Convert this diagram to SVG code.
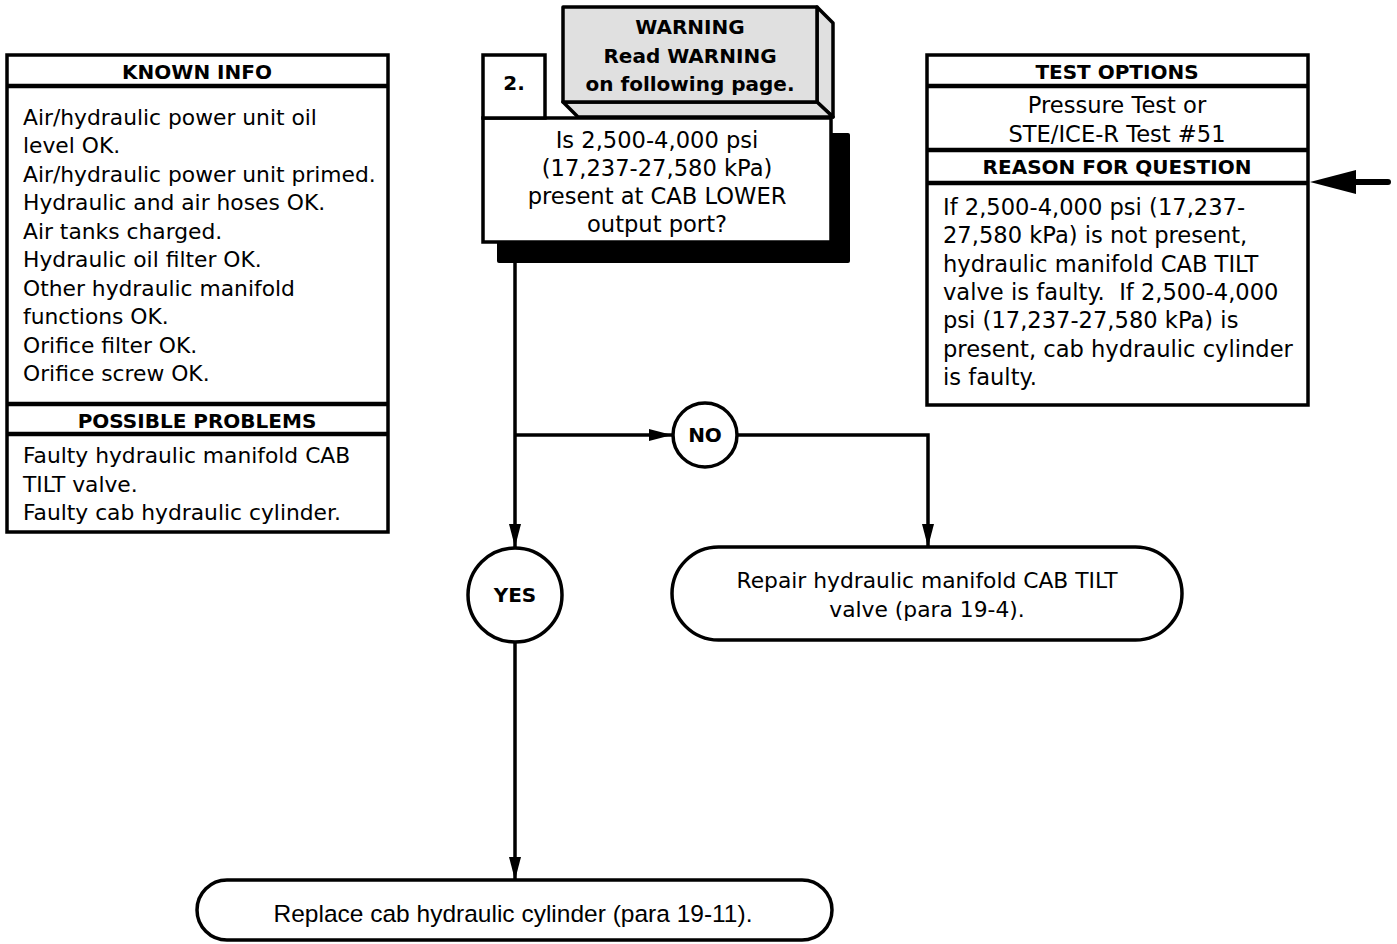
<svg xmlns="http://www.w3.org/2000/svg" width="1397" height="944" viewBox="0 0 1397 944">
<defs>
<style>
.t{font-family:"DejaVu Sans",Verdana,sans-serif;font-size:21.8px;fill:#000}
.q{font-size:22.6px}
.b{font-family:"DejaVu Sans",Verdana,sans-serif;font-size:20px;font-weight:bold;fill:#000}
.c{text-anchor:middle}
.box{fill:#fff;stroke:#000;stroke-width:3.5}
.sep{stroke:#000;stroke-width:4.5}
.ln{fill:none;stroke:#000;stroke-width:3.5}
.gray{fill:#e0e0e0;stroke:#000;stroke-width:3.5;stroke-linejoin:round}
</style>
<marker id="ah" markerWidth="23" markerHeight="12" refX="23" refY="6" orient="auto" markerUnits="userSpaceOnUse">
<path d="M0,0 L23,6 L0,12 Z" fill="#000"/>
</marker>
</defs>
<rect width="1397" height="944" fill="#fff"/>

<g id="connectors">
<line class="ln" x1="515" y1="260" x2="515" y2="547" marker-end="url(#ah)"/>
<line class="ln" x1="515" y1="435" x2="672" y2="435" marker-end="url(#ah)"/>
<polyline class="ln" points="737,435 928,435 928,547" marker-end="url(#ah)"/>
<line class="ln" x1="515" y1="642" x2="515" y2="880" marker-end="url(#ah)"/>
<line x1="1350" y1="182" x2="1388" y2="182" stroke="#000" stroke-width="6" stroke-linecap="round"/>
<path d="M1310,182 L1356,170 L1356,194 Z" fill="#000"/>
</g>

<g id="known-info">
<rect class="box" x="7" y="55" width="381" height="477"/>
<line class="sep" x1="7" y1="86" x2="388" y2="86"/>
<line class="sep" x1="7" y1="404" x2="388" y2="404"/>
<line class="sep" x1="7" y1="434" x2="388" y2="434"/>
<text class="b c" x="197" y="79">KNOWN INFO</text>
<text class="t" x="23" y="125">Air/hydraulic power unit oil</text>
<text class="t" x="23" y="153">level OK.</text>
<text class="t" x="23" y="182">Air/hydraulic power unit primed.</text>
<text class="t" x="23" y="210">Hydraulic and air hoses OK.</text>
<text class="t" x="23" y="239">Air tanks charged.</text>
<text class="t" x="23" y="267">Hydraulic oil filter OK.</text>
<text class="t" x="23" y="296">Other hydraulic manifold</text>
<text class="t" x="23" y="324">functions OK.</text>
<text class="t" x="23" y="353">Orifice filter OK.</text>
<text class="t" x="23" y="381">Orifice screw OK.</text>
<text class="b c" x="197" y="428">POSSIBLE PROBLEMS</text>
<text class="t" x="23" y="463">Faulty hydraulic manifold CAB</text>
<text class="t" x="23" y="492">TILT valve.</text>
<text class="t" x="23" y="520">Faulty cab hydraulic cylinder.</text>
</g>

<g id="test-options">
<rect class="box" x="927" y="55" width="381" height="350"/>
<line class="sep" x1="927" y1="86" x2="1308" y2="86"/>
<line class="sep" x1="927" y1="150" x2="1308" y2="150"/>
<line class="sep" x1="927" y1="183" x2="1308" y2="183"/>
<text class="b c" x="1117" y="79">TEST OPTIONS</text>
<text class="t q c" x="1117" y="113">Pressure Test or</text>
<text class="t q c" x="1117" y="142">STE/ICE-R Test #51</text>
<text class="b c" x="1117" y="174">REASON FOR QUESTION</text>
<text class="t q" x="943" y="215">If 2,500-4,000 psi (17,237-</text>
<text class="t q" x="943" y="243">27,580 kPa) is not present,</text>
<text class="t q" x="943" y="272">hydraulic manifold CAB TILT</text>
<text class="t q" x="943" y="300" xml:space="preserve">valve is faulty.  If 2,500-4,000</text>
<text class="t q" x="943" y="328">psi (17,237-27,580 kPa) is</text>
<text class="t q" x="943" y="357">present, cab hydraulic cylinder</text>
<text class="t q" x="943" y="385">is faulty.</text>
</g>

<g id="step-2">
<rect x="497" y="133" width="353" height="130" rx="2" fill="#000"/>
<rect class="box" x="483" y="118" width="348" height="124"/>
<rect class="box" x="483" y="55" width="62" height="63"/>
<text class="b c" x="514" y="90">2.</text>
<text class="t q c" x="657" y="148">Is 2,500-4,000 psi</text>
<text class="t q c" x="657" y="176">(17,237-27,580 kPa)</text>
<text class="t q c" x="657" y="204">present at CAB LOWER</text>
<text class="t q c" x="657" y="232">output port?</text>
</g>

<g id="warning">
<polygon class="gray" points="817,7 833,23 833,117 817,102"/>
<polygon class="gray" points="563,102 817,102 833,117 578,117"/>
<rect class="gray" x="563" y="7" width="254" height="95"/>
<text class="b c" x="690" y="34">WARNING</text>
<text class="b c" x="690" y="63">Read WARNING</text>
<text class="b c" x="690" y="91">on following page.</text>
</g>

<g id="no">
<circle class="box" cx="705" cy="435" r="32"/>
<text class="b c" x="705" y="442">NO</text>
</g>

<g id="yes">
<circle class="box" cx="515" cy="595" r="47"/>
<text class="b c" x="515" y="602">YES</text>
</g>

<g id="repair">
<rect class="box" x="672" y="547" width="510" height="93" rx="46.5"/>
<text class="t c" x="927" y="588">Repair hydraulic manifold CAB TILT</text>
<text class="t c" x="927" y="617">valve (para 19-4).</text>
</g>

<g id="replace">
<rect class="box" x="197" y="880" width="635" height="60" rx="30"/>
<text class="c" x="513" y="922" style="font-family:'Liberation Sans',Arial,sans-serif;font-size:24.5px">Replace cab hydraulic cylinder (para 19-11).</text>
</g>
</svg>
